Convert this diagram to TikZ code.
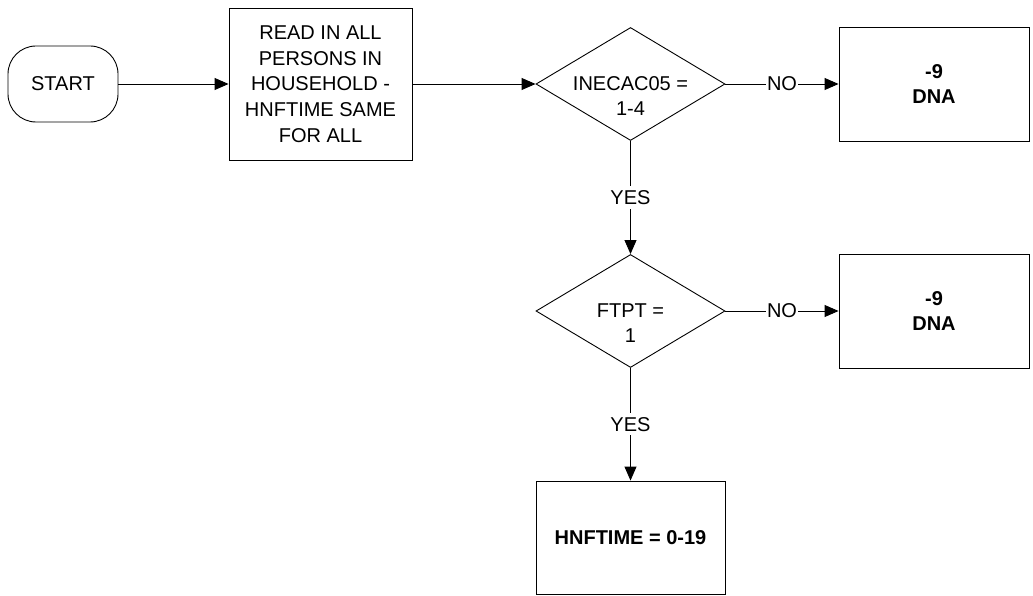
\documentclass[tikz,border=0pt]{standalone}
\usepackage{fontspec}
\setmainfont{Liberation Sans}
\usetikzlibrary{shapes.geometric,arrows.meta}
\begin{document}
\begin{tikzpicture}[x=1pt,y=-1pt,
  txt/.style={font=\fontsize{20}{25.7}\selectfont,align=center,inner sep=0pt},
  shp/.style={draw=black,line width=0.9pt,inner sep=0pt},
  boxn/.style={shp,rectangle,txt},
  dia/.style={shp,diamond,minimum width=189pt,minimum height=113pt},
  lbl/.style={txt,fill=white,inner xsep=1pt,inner ysep=4pt},
  arr/.style={line width=0.9pt,-{Triangle[length=14pt,width=12pt]}}]
\useasboundingbox (0,0) rectangle (1033,596);
\node[boxn,rounded corners=28pt,minimum width=110pt,minimum height=76pt] (start) at (63,84) {START};
\node[boxn,minimum width=183pt,minimum height=152pt] (read) at (320.5,84) {READ IN ALL\\PERSONS IN\\HOUSEHOLD -\\HNFTIME SAME\\FOR ALL};
\node[dia] (d1) at (630.5,84) {};
\node[txt] (d1t) at ([yshift=-12pt]d1.center) {INECAC05 =\\1-4};
\node[boxn,minimum width=190pt,minimum height=114pt,font=\fontsize{20}{25.7}\selectfont\bfseries] (dna1) at (934,84) {-9\\DNA};
\node[dia] (d2) at (630.5,311) {};
\node[txt] (d2t) at ([yshift=-12pt]d2.center) {FTPT =\\1};
\node[boxn,minimum width=190pt,minimum height=114pt,font=\fontsize{20}{25.7}\selectfont\bfseries] (dna2) at (934,311) {-9\\DNA};
\node[boxn,minimum width=189pt,minimum height=113pt,font=\fontsize{20}{25.7}\selectfont\bfseries] (fin) at (630.5,537.5) {HNFTIME = 0-19};
\draw[arr] (start) -- (read);
\draw[arr] (read) -- (d1);
\draw[arr] (d1.east) -- node[lbl] {NO} (dna1.west);
\draw[arr] (d1.south) -- node[lbl] {YES} (d2.north);
\draw[arr] (d2.east) -- node[lbl] {NO} (dna2.west);
\draw[arr] (d2.south) -- node[lbl] {YES} (fin.north);
\end{tikzpicture}
\end{document}
